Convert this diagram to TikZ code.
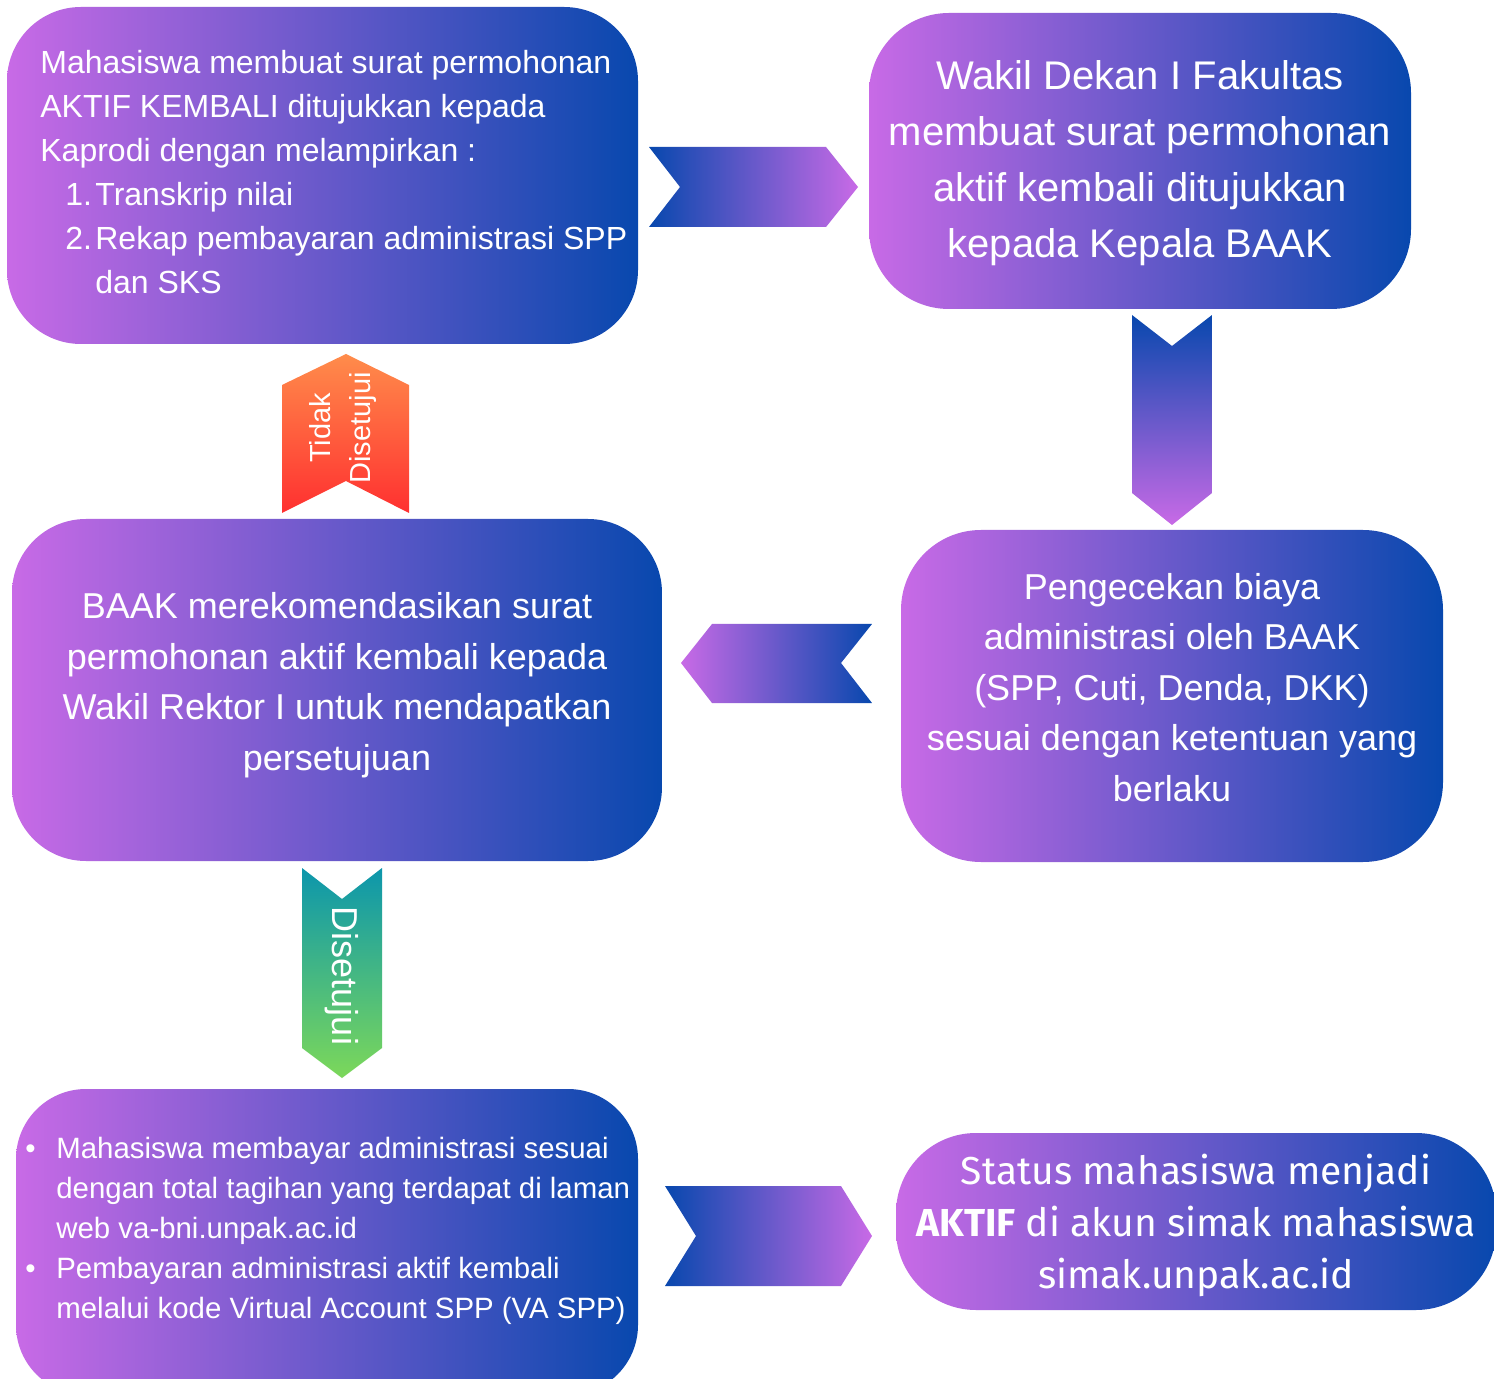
\documentclass[tikz,border=0pt]{standalone}
\usepackage{fontspec}
\setmainfont{Liberation Sans}
\newfontfamily\statusfont{Fira Sans}
\definecolor{gpink}{RGB}{200,106,230}
\definecolor{gblue}{RGB}{8,72,174}
\definecolor{gorange}{RGB}{255,140,75}
\definecolor{gred}{RGB}{255,48,48}
\definecolor{gteal}{RGB}{12,150,172}
\definecolor{ggreen}{RGB}{124,216,90}
\tikzset{
  box/.style={rounded corners=#1, left color=gpink, right color=gblue, draw=none, inner sep=0pt},
  txt/.style={text=white, inner sep=0pt},
}
\begin{document}
\begin{tikzpicture}[x=0.5pt,y=-0.5pt]
\path[use as bounding box, fill=white] (0,0) rectangle (1494,1379);
\clip (0,0) rectangle (1494,1379);

% boxes
\node[box=37pt, minimum width=315.5pt, minimum height=168.5pt] (b1) at (322.5,175.5) {};
\node[box=40pt, minimum width=271pt, minimum height=148pt] (b2) at (1140,161) {};
\node[box=37pt, minimum width=325pt, minimum height=171pt] (b3) at (337,690) {};
\node[box=40pt, minimum width=271pt, minimum height=166pt] (b4) at (1172,696) {};
\node[box=35pt, minimum width=311pt, minimum height=153pt] (b5) at (327,1242) {};
\node[box=40pt, minimum width=300pt, minimum height=88.5pt] (b6) at (1196,1221.5) {};

% chevrons
\path[left color=gblue, right color=gpink] (649,147) -- (826,147) -- (858,187) -- (826,227) -- (649,227) -- (680,187) -- cycle;
\path[top color=gblue, bottom color=gpink] (1132,315) -- (1172,346) -- (1212,315) -- (1212,493) -- (1172,525) -- (1132,493) -- cycle;
\path[left color=gpink, right color=gblue] (681,663) -- (712,624) -- (872,624) -- (841,663) -- (872,703) -- (712,703) -- cycle;
\path[top color=gorange, bottom color=gred] (346,354) -- (409,385) -- (409,513) -- (346,481) -- (282,513) -- (282,385) -- cycle;
\path[top color=gteal, bottom color=ggreen] (302,868) -- (342,899) -- (382,868) -- (382,1048) -- (342,1078) -- (302,1048) -- cycle;
\path[left color=gblue, right color=gpink] (665,1186) -- (841,1186) -- (872,1236) -- (841,1286) -- (665,1286) -- (696,1236) -- cycle;

% texts
\node[txt, anchor=west, align=left, font={\fontsize{16}{22}\selectfont}] (t1) at (40,172) {Mahasiswa membuat surat permohonan\\
AKTIF KEMBALI ditujukkan kepada\\
Kaprodi dengan melampirkan :\\
\hspace*{12.5pt}\makebox[15pt][l]{1.}Transkrip nilai\\
\hspace*{12.5pt}\makebox[15pt][l]{2.}Rekap pembayaran administrasi SPP\\
\hspace*{27.5pt}dan SKS};

\node[txt, align=center, font={\fontsize{20}{28}\selectfont}] (t2) at (1140,163) {Wakil Dekan I Fakultas\\membuat surat permohonan\\aktif kembali ditujukkan\\kepada Kepala BAAK};

\node[txt, align=center, font={\fontsize{18}{25.3}\selectfont}] (t3) at (337,685) {BAAK merekomendasikan surat\\permohonan aktif kembali kepada\\Wakil Rektor I untuk mendapatkan\\persetujuan};

\node[txt, align=center, font={\fontsize{18}{25.3}\selectfont}] (t4) at (1172,687.5) {Pengecekan biaya\\administrasi oleh BAAK\\(SPP, Cuti, Denda, DKK)\\sesuai dengan ketentuan yang\\berlaku};

\node[txt, anchor=west, align=left, font={\fontsize{14.7}{20}\selectfont}] (t5) at (25,1231) {\makebox[15.5pt][l]{\textbullet}Mahasiswa membayar administrasi sesuai\\
\hspace*{15.5pt}dengan total tagihan yang terdapat di laman\\
\hspace*{15.5pt}web va-bni.unpak.ac.id\\
\makebox[15.5pt][l]{\textbullet}Pembayaran administrasi aktif kembali\\
\hspace*{15.5pt}melalui kode Virtual Account SPP (VA SPP)};

\node[txt, align=center, font={\statusfont\fontsize{19.5}{26}\selectfont}] (t6) at (1196,1225) {Status mahasiswa menjadi\\\textbf{AKTIF} di akun simak mahasiswa\\simak.unpak.ac.id};

\node[txt, rotate=90, align=center, font={\fontsize{14.5}{20}\selectfont}] (t7) at (343,428) {Tidak\\Disetujui};
\node[txt, rotate=-90, font={\fontsize{18}{22}\selectfont}] (t8) at (342,976) {Disetujui};
\end{tikzpicture}
\end{document}
